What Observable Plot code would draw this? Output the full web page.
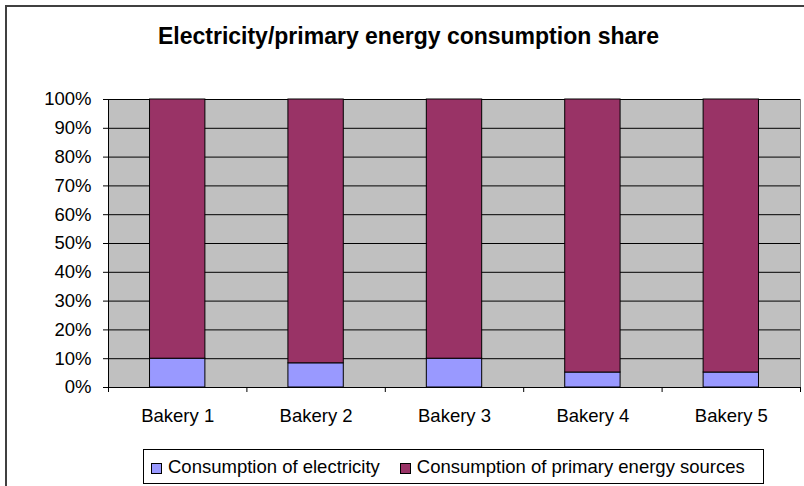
<!DOCTYPE html>
<html>
<head>
<meta charset="utf-8">
<script src="https://cdn.jsdelivr.net/npm/d3@7"></script>
<script src="https://cdn.jsdelivr.net/npm/@observablehq/plot@0.6"></script>
<style>
  html, body { margin: 0; padding: 0; background: #fff; }
  #wrap { position: relative; width: 804px; height: 486px; overflow: hidden; font-family: "Liberation Sans", Arial, sans-serif; }
  #border { position: absolute; left: 5px; top: 5px; width: 900px; height: 600px; border: 2px solid #404040; box-sizing: border-box; }
  #title { position: absolute; left: 0; top: 25px; width: 817px; text-align: center; font-weight: bold; font-size: 23px; line-height: 23px; color: #000; }
  #chart { position: absolute; left: 0; top: 0; }
  #legend { position: absolute; left: 143px; top: 449px; width: 621px; height: 35px; border: 1px solid #000; box-sizing: border-box; background: #fff; display: flex; align-items: center; padding-left: 7px; font-size: 18.5px; color: #000; white-space: nowrap; }
  .sw { display: inline-block; width: 9px; height: 9px; border: 1px solid #000; margin-right: 6px; margin-top: 3px; }
  .item { display: inline-flex; align-items: center; margin-right: 20px; }
</style>
</head>
<body>
<div id="wrap">
  <div id="border"></div>
  <div id="title">Electricity/primary energy consumption share</div>
  <div id="chart"></div>
  <div id="legend"></div>
</div>
<script>
const categories = ["Bakery 1", "Bakery 2", "Bakery 3", "Bakery 4", "Bakery 5"];
const seriesNames = ["Consumption of electricity", "Consumption of primary energy sources"];
const seriesColors = ["#9999FF", "#993366"];
const electricity = [10, 8.4, 10, 5.2, 5.2];
const primary = [90, 91.6, 90, 94.8, 94.8];
const yTicks = [0, 10, 20, 30, 40, 50, 60, 70, 80, 90, 100];

const data = categories.flatMap((c, i) => [
  {bakery: c, series: seriesNames[0], value: electricity[i]},
  {bakery: c, series: seriesNames[1], value: primary[i]}
]);

const W = 804, mL = 108, mR = 4;
const step = (W - mL - mR) / categories.length;

const chart = Plot.plot({
  width: W,
  height: 432,
  marginLeft: mL,
  marginRight: mR,
  marginTop: 99,
  marginBottom: 45,
  style: {fontFamily: "'Liberation Sans', Arial, sans-serif", fontSize: "18.5px", background: "transparent", overflow: "visible", color: "#000"},
  x: {domain: categories, paddingInner: 0.6, paddingOuter: 0.3, round: false, label: null},
  y: {domain: [0, 100], label: null},
  color: {domain: seriesNames, range: seriesColors},
  marks: [
    Plot.frame({fill: "#C0C0C0", stroke: "#808080"}),
    Plot.gridY(yTicks, {stroke: "#000", strokeOpacity: 1}),
    Plot.barY(data, {x: "bakery", y: "value", fill: "series", stroke: "#000", strokeWidth: 1}),
    Plot.frame({anchor: "left", stroke: "#000"}),
    Plot.axisY(yTicks, {tickSize: 5, tickPadding: 12, tickFormat: d => d + "%", label: null, stroke: "#000"}),
    Plot.axisX({tickSize: 0, tickPadding: 21, label: null}),
    Plot.axisX({tickSize: 5, tickFormat: () => "", dx: -step / 2, label: null, stroke: "#000"}),
    Plot.axisX([categories[categories.length - 1]], {tickSize: 5, tickFormat: () => "", dx: step / 2, label: null, stroke: "#000"})
  ]
});
document.getElementById("chart").appendChild(chart);

const legend = document.getElementById("legend");
seriesNames.forEach((s, i) => {
  const item = document.createElement("span");
  item.className = "item";
  const sw = document.createElement("span");
  sw.className = "sw";
  sw.style.background = seriesColors[i];
  item.appendChild(sw);
  item.appendChild(document.createTextNode(s));
  legend.appendChild(item);
});
</script>
</body>
</html>
